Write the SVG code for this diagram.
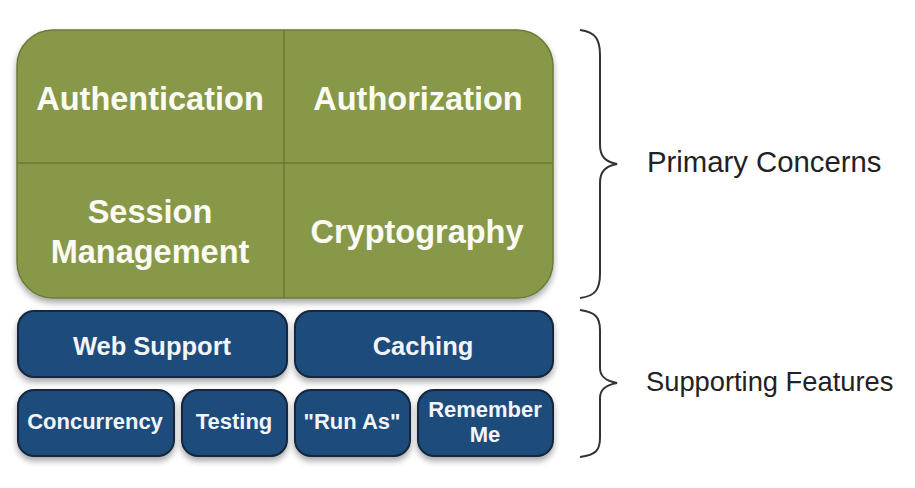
<svg xmlns="http://www.w3.org/2000/svg" width="915" height="488" viewBox="0 0 915 488">
<style>
.green{fill:#88984a;stroke:#6b7a36;stroke-width:1.5}
.div{stroke:#6b7a36;stroke-width:1.5}
.blue{fill:#1f4c7c;stroke:#12263d;stroke-width:2}
.gt{font-family:"Liberation Sans",Arial,sans-serif;font-weight:bold;font-size:32.5px;fill:#fbfbf3;text-anchor:middle}
.bt{font-family:"Liberation Sans",Arial,sans-serif;font-weight:bold;font-size:25.5px;fill:#f2f4f8;text-anchor:middle}
.st{font-family:"Liberation Sans",Arial,sans-serif;font-weight:bold;font-size:22px;fill:#f2f4f8;text-anchor:middle}
.lab{font-family:"Liberation Sans",Arial,sans-serif;fill:#222}
.brace{fill:none;stroke:#333;stroke-width:2}
</style>
<defs>
<filter id="sh" x="-10%" y="-10%" width="120%" height="130%">
<feDropShadow dx="0" dy="4" stdDeviation="3" flood-color="#000" flood-opacity="0.35"/>
</filter>
</defs>
<rect width="915" height="488" fill="#fff"/>
<g id="primary">
<rect class="green" x="17" y="30" width="536" height="268" rx="36" ry="36" filter="url(#sh)"/>
<line class="div" x1="284" y1="30" x2="284" y2="298"/>
<line class="div" x1="17" y1="163" x2="553" y2="163"/>
</g>
<g id="authentication"><text class="gt" x="150" y="110">Authentication</text></g>
<g id="authorization"><text class="gt" x="418" y="110">Authorization</text></g>
<g id="session"><text class="gt" x="150" y="223">Session</text><text class="gt" x="150" y="263">Management</text></g>
<g id="cryptography"><text class="gt" x="417" y="243">Cryptography</text></g>
<g id="websupport"><rect class="blue" x="18" y="311" width="269" height="66" rx="16" filter="url(#sh)"/><text class="bt" x="152" y="355">Web Support</text></g>
<g id="caching"><rect class="blue" x="295" y="311" width="258" height="66" rx="16" filter="url(#sh)"/><text class="bt" x="423" y="355">Caching</text></g>
<g id="concurrency"><rect class="blue" x="18" y="390" width="156" height="66" rx="16" filter="url(#sh)"/><text class="st" x="95" y="429">Concurrency</text></g>
<g id="testing"><rect class="blue" x="182" y="390" width="105" height="66" rx="16" filter="url(#sh)"/><text class="st" x="234" y="429">Testing</text></g>
<g id="runas"><rect class="blue" x="295" y="390" width="115" height="66" rx="16" filter="url(#sh)"/><text class="st" x="352" y="429">"Run As"</text></g>
<g id="rememberme"><rect class="blue" x="418" y="390" width="135" height="66" rx="16" filter="url(#sh)"/><text class="st" x="485" y="417">Remember</text><text class="st" x="485" y="442">Me</text></g>
<g id="connectors">
<path class="brace" d="M580,30 C596,32 600,40 600,55 L600,145 C600,157 606,162 617,164 C606,166 600,171 600,183 L600,273 C600,289 596,296 580,298"/>
<path class="brace" d="M580,310 C596,312 600,318 600,330 L600,368 C600,377 606,381 617,383 C606,385 600,389 600,398 L600,438 C600,450 596,455 580,457"/>
</g>
<g id="primary-label"><text class="lab" x="647" y="172" font-size="29.3">Primary Concerns</text></g>
<g id="supporting-label"><text class="lab" x="646" y="391" font-size="27.3">Supporting Features</text></g>
</svg>
